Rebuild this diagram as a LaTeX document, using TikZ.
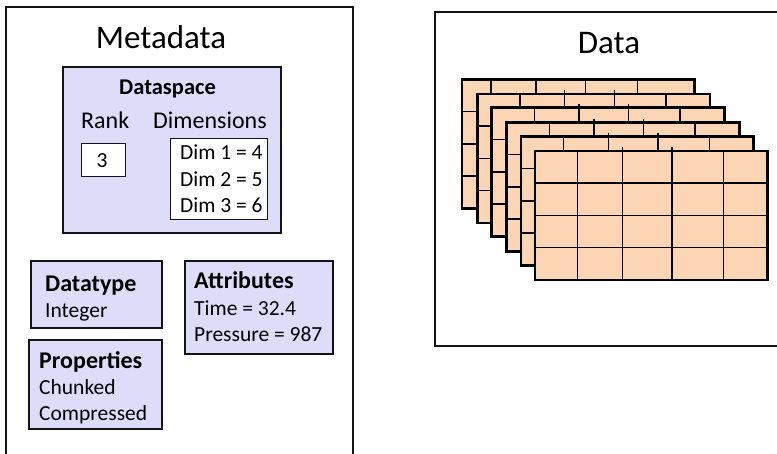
\documentclass[tikz,border=0pt]{standalone}
\usepackage{fontspec}
\setmainfont{Carlito}
\definecolor{lav}{RGB}{221,221,250}
\definecolor{peach}{RGB}{252,213,180}
\definecolor{edge}{RGB}{20,20,20}
\tikzset{
  panel/.style={draw=edge, line width=1.3pt},
  box/.style={draw=edge, line width=1.4pt, fill=lav, inner sep=0pt},
  wbox/.style={draw=edge, line width=0.9pt, fill=white, inner sep=0pt},
  title/.style={font=\fontsize{33}{36}\selectfont, inner sep=0pt},
  head/.style={font=\bfseries\fontsize{24}{28}\selectfont, inner sep=0pt},
  dshead/.style={font=\bfseries\fontsize{22.5}{26}\selectfont, inner sep=0pt},
  lbl/.style={font=\fontsize{24}{28}\selectfont, inner sep=0pt},
  small/.style={font=\fontsize{21.5}{24}\selectfont, inner sep=0pt},
  gridin/.style={draw=black, line width=1.5pt},
  gridout/.style={draw=black, line width=2.6pt},
}
\newcommand{\gridlayer}[7]{% left, top, c1, c2, c3, c4, tick length
  \fill[peach] (#1,#2) rectangle ++(232.5,129);
  \foreach \c in {#3,#6} \draw[gridin] (#1+\c,#2) -- ++(0,129);
  \foreach \c in {#4,#5} \draw[gridin] (#1+\c,#2-#7) -- ++(0,129+#7);
  \foreach \r in {32,64.5,96.5} \draw[gridin] (#1,#2+\r) -- ++(232.5,0);
  \draw[gridout] (#1,#2) rectangle ++(232.5,129);
}
\begin{document}
\begin{tikzpicture}[x=1pt,y=-1pt]
\useasboundingbox (0,0) rectangle (777,453);
\clip (0,0) rectangle (777,453);
% panels
\draw[panel] (6,470) -- (6,7) -- (353,7) -- (353,470);
\draw[panel] (790,12) -- (435,12) -- (435,346) -- (790,346);
\node[title, anchor=base] (meta) at (161,48) {Metadata};
\node[title, anchor=base] (data) at (609,53) {Data};
% dataspace
\node[box, minimum width=218pt, minimum height=166pt] (dspace) at (172,150) {};
\node[dshead, anchor=base] (dsh) at (167.5,94.5) {Dataspace};
\node[lbl, anchor=base west] (rank) at (81,128) {Rank};
\node[lbl, anchor=base west] (dims) at (153,128) {Dimensions};
\node[wbox, minimum width=44pt, minimum height=33pt] (rankbox) at (103,159.5) {};
\node[small, anchor=base] (three) at (102,167) {3};
\node[wbox, minimum width=97pt, minimum height=81pt] (dimbox) at (218.5,178.5) {};
\node[small, anchor=base west] (d1) at (180,159.5) {Dim 1 = 4};
\node[small, anchor=base west] (d2) at (180,186) {Dim 2 = 5};
\node[small, anchor=base west] (d3) at (180,212) {Dim 3 = 6};
% datatype
\node[box, minimum width=131pt, minimum height=67pt] (dtype) at (96.5,294.5) {};
\node[head, anchor=base west] (dth) at (45,291) {Datatype};
\node[small, anchor=base west] (dti) at (45,317) {Integer};
% properties
\node[box, minimum width=133pt, minimum height=89pt] (props) at (95.5,384.5) {};
\node[head, anchor=base west] (prh) at (39,368) {Properties};
\node[small, anchor=base west] (pr1) at (39,394) {Chunked};
\node[small, anchor=base west] (pr2) at (39,420) {Compressed};
% attributes
\node[box, minimum width=148pt, minimum height=93pt] (attrs) at (259,307.5) {};
\node[head, anchor=base west] (ath) at (194,288) {Attributes};
\node[small, anchor=base west] (at1) at (194,315) {Time = 32.4};
\node[small, anchor=base west] (at2) at (194,341) {Pressure = 987};
% data grids
\gridlayer{462}{79.3}{29}{74}{123.3}{175.7}{0}
\gridlayer{477.3}{94}{42.7}{87.3}{137}{188.5}{4}
\gridlayer{491.7}{107.7}{42.7}{87.3}{137}{188.5}{4}
\gridlayer{506.7}{122.7}{42.7}{87.3}{137}{188.5}{4}
\gridlayer{521}{136.7}{42.7}{87.3}{137}{188.5}{4}
\gridlayer{535}{151}{42.7}{87.3}{137}{188.5}{4}
\end{tikzpicture}
\end{document}
